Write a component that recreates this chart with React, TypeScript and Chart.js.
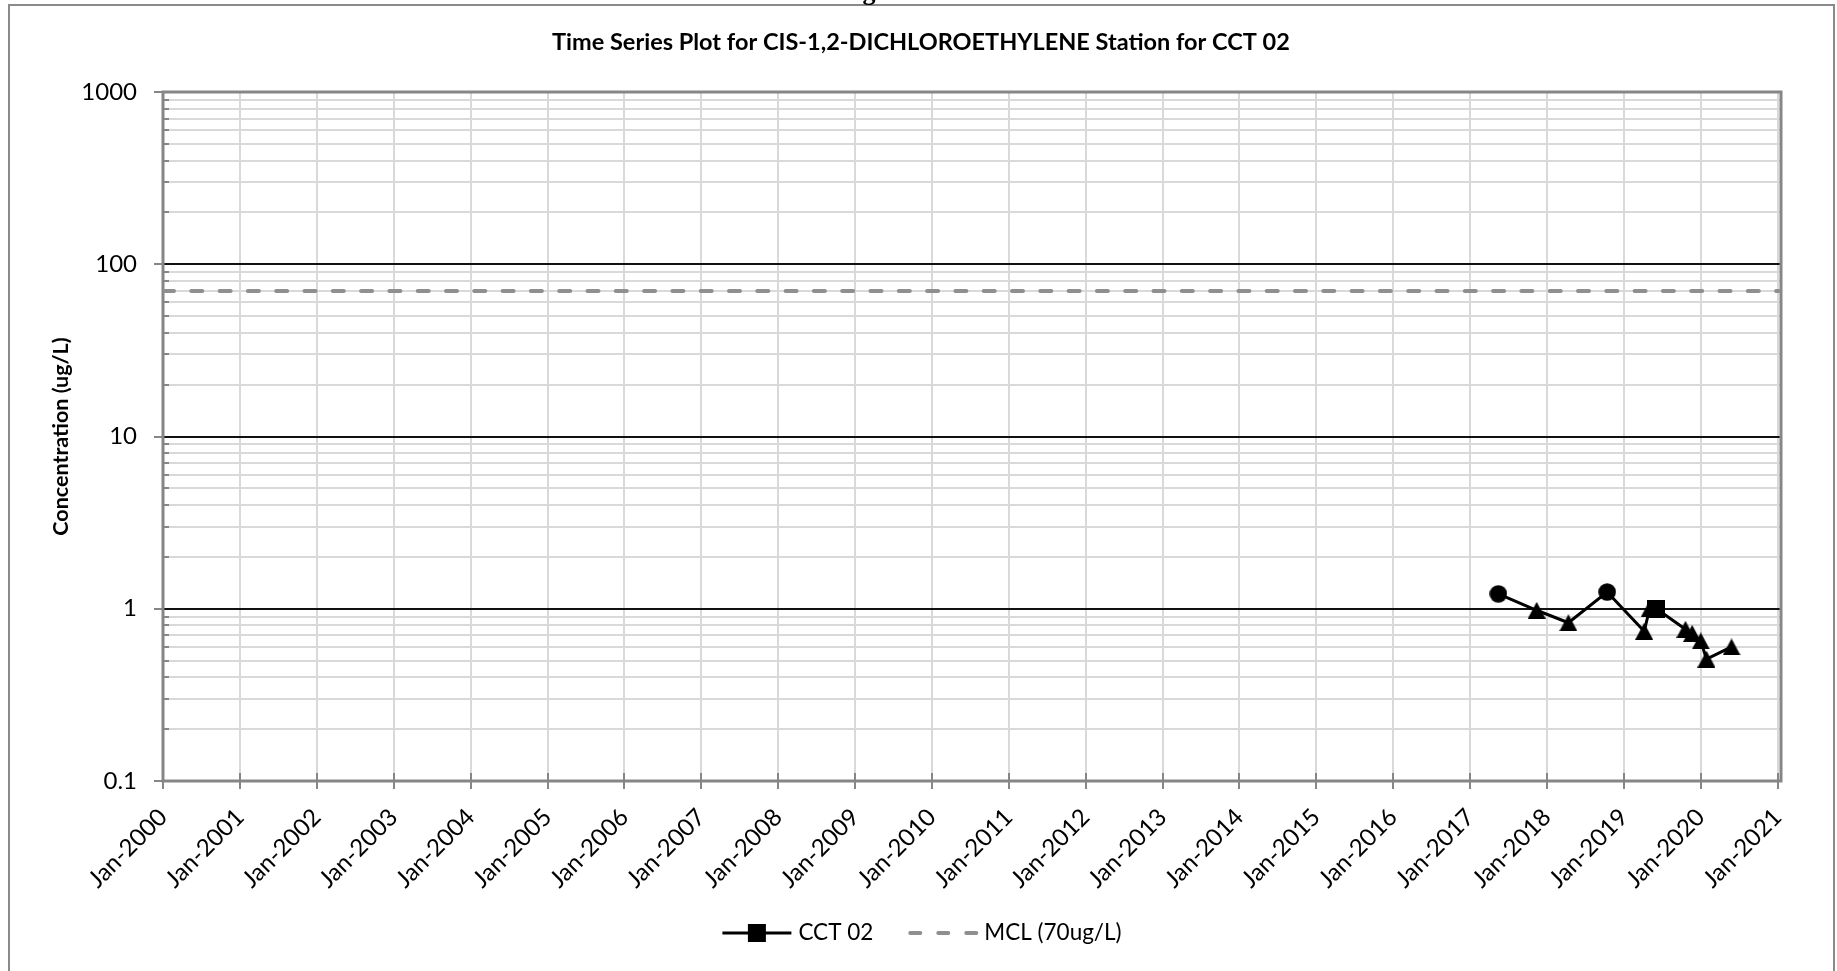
import React, { useEffect, useRef } from "react";
import { Chart, registerables } from "chart.js";

Chart.register(...registerables);

// ---------------- data ----------------
const chartTitle = "Time Series Plot for CIS-1,2-DICHLOROETHYLENE Station for CCT 02";
const yAxisTitle = "Concentration (ug/L)";
const seriesName = "CCT 02";
const mclName = "MCL (70ug/L)";

const sampleDates = [
  "2017-05-15", "2017-11-13", "2018-04-13", "2018-10-14", "2019-04-08", "2019-05-04",
  "2019-06-05", "2019-10-21", "2019-11-22", "2020-01-02", "2020-01-29", "2020-05-27",
];
const concentrations = [1.22, 0.98, 0.83, 1.25, 0.74, 1.0, 1.0, 0.76, 0.72, 0.65, 0.51, 0.6];
const markerShapes = [
  "circle", "triangle", "triangle", "circle", "triangle", "triangle",
  "square", "triangle", "triangle", "triangle", "triangle", "triangle",
];

const mclValue = 70;
const xAxisStart = "2000-01-01";
const xAxisEnd = "2021-01-17";

const xTickDates = [
  "2000-01-01", "2001-01-01", "2002-01-01", "2003-01-01", "2004-01-01", "2005-01-01",
  "2006-01-01", "2007-01-01", "2008-01-01", "2009-01-01", "2010-01-01", "2011-01-01",
  "2012-01-01", "2013-01-01", "2014-01-01", "2015-01-01", "2016-01-01", "2017-01-01",
  "2018-01-01", "2019-01-01", "2020-01-01", "2021-01-01",
];
const xTickLabels = [
  "Jan-2000", "Jan-2001", "Jan-2002", "Jan-2003", "Jan-2004", "Jan-2005",
  "Jan-2006", "Jan-2007", "Jan-2008", "Jan-2009", "Jan-2010", "Jan-2011",
  "Jan-2012", "Jan-2013", "Jan-2014", "Jan-2015", "Jan-2016", "Jan-2017",
  "Jan-2018", "Jan-2019", "Jan-2020", "Jan-2021",
];

const yTickValues = [
  0.1, 0.2, 0.3, 0.4, 0.5, 0.6, 0.7, 0.8, 0.9,
  1, 2, 3, 4, 5, 6, 7, 8, 9,
  10, 20, 30, 40, 50, 60, 70, 80, 90,
  100, 200, 300, 400, 500, 600, 700, 800, 900,
  1000,
];
const yMajorValues = [0.1, 1, 10, 100, 1000];
const yMajorLabels = ["0.1", "1", "10", "100", "1000"];
const yDarkGridValues = [1, 10, 100];

// ---------------- styles ----------------
const FONT = "Lato";
const FRAME = "#868686";
const GRID = "#d9d9d9";

function makeMarker(shape: string): HTMLCanvasElement {
  const c = document.createElement("canvas");
  if (shape === "triangle") {
    c.width = 18;
    c.height = 17;
  } else {
    c.width = 18;
    c.height = 18;
  }
  const g = c.getContext("2d")!;
  g.fillStyle = "#000";
  g.beginPath();
  if (shape === "triangle") {
    g.moveTo(9, 0);
    g.lineTo(18, 17);
    g.lineTo(0, 17);
    g.closePath();
  } else if (shape === "circle") {
    g.arc(9, 9, 8.8, 0, Math.PI * 2);
  } else {
    g.rect(0, 0, 18, 18);
  }
  g.fill();
  return c;
}

export default function App() {
  const canvasRef = useRef<HTMLCanvasElement | null>(null);

  useEffect(() => {
    const canvas = canvasRef.current;
    if (!canvas) return;

    const markers: Record<string, HTMLCanvasElement> = {
      circle: makeMarker("circle"),
      triangle: makeMarker("triangle"),
      square: makeMarker("square"),
    };

    const xMin = Date.parse(xAxisStart);
    const xMax = Date.parse(xAxisEnd);

    const decorPlugin = {
      id: "decor",
      beforeDatasetsDraw(chart: any) {
        const { ctx, chartArea: a } = chart;
        const xs = chart.scales.x;
        const ys = chart.scales.y;
        ctx.save();
        ctx.strokeStyle = FRAME;
        ctx.lineWidth = 2;
        ctx.beginPath();
        yTickValues.forEach((v) => {
          if (yMajorValues.includes(v)) return;
          const y = Math.round(ys.getPixelForValue(v));
          ctx.moveTo(a.left, y);
          ctx.lineTo(a.left + 6, y);
        });
        xTickDates.forEach((d) => {
          const x = Math.round(xs.getPixelForValue(Date.parse(d)));
          ctx.moveTo(x, a.bottom);
          ctx.lineTo(x, a.bottom - 8);
        });
        ctx.stroke();
        ctx.lineWidth = 3;
        ctx.strokeRect(a.left, a.top, a.right - a.left, a.bottom - a.top);
        ctx.restore();
      },
      afterDraw(chart: any) {
        const { ctx } = chart;
        ctx.save();
        // outer border
        ctx.strokeStyle = "#8a8a8a";
        ctx.lineWidth = 2;
        ctx.beginPath();
        ctx.moveTo(9, 980);
        ctx.lineTo(9, 5);
        ctx.lineTo(1834, 5);
        ctx.lineTo(1834, 980);
        ctx.stroke();

        // clipped page text above the chart
        ctx.fillStyle = "#000";
        ctx.font = 'bold 26px "Liberation Serif"';
        ctx.textAlign = "center";
        ctx.textBaseline = "alphabetic";
        ctx.fillText("g", 869, 0);

        // title
        ctx.font = `bold 23.5px ${FONT}`;
        ctx.textBaseline = "middle";
        ctx.fillText(chartTitle, 921, 42);

        // legend
        ctx.font = `22.5px ${FONT}`;
        ctx.textAlign = "left";
        const ly = 933;
        const lineLen = 69;
        const gapText = 7;
        const itemGap = 35;
        const w1 = ctx.measureText(seriesName).width;
        const w2 = ctx.measureText(mclName).width;
        const total = lineLen + gapText + w1 + itemGap + lineLen + gapText + w2;
        let x = 922 - total / 2;
        ctx.strokeStyle = "#000";
        ctx.lineWidth = 3;
        ctx.beginPath();
        ctx.moveTo(x, ly);
        ctx.lineTo(x + lineLen, ly);
        ctx.stroke();
        ctx.fillRect(x + lineLen / 2 - 9, ly - 9, 18, 18);
        x += lineLen + gapText;
        ctx.fillText(seriesName, x, ly);
        x += w1 + itemGap;
        ctx.strokeStyle = "#8f8f8f";
        ctx.lineWidth = 4;
        ctx.lineCap = "round";
        ctx.setLineDash([10, 18]);
        ctx.beginPath();
        ctx.moveTo(x + 2, ly);
        ctx.lineTo(x + lineLen, ly);
        ctx.stroke();
        ctx.setLineDash([]);
        x += lineLen + gapText;
        ctx.fillText(mclName, x, ly);
        ctx.restore();
      },
    };

    const chart = new Chart(canvas, {
      type: "line",
      data: {
        datasets: [
          {
            label: seriesName,
            data: sampleDates.map((d, i) => ({ x: Date.parse(d), y: concentrations[i] })),
            borderColor: "#000",
            backgroundColor: "#000",
            borderWidth: 3,
            pointStyle: markerShapes.map((s) => markers[s]) as any,
            pointRadius: 8,
            tension: 0,
          },
          {
            label: mclName,
            data: [
              { x: xMin, y: mclValue },
              { x: xMax, y: mclValue },
            ],
            borderColor: "#8f8f8f",
            borderWidth: 4,
            borderDash: [11, 17.3],
            borderCapStyle: "round",
            pointRadius: 0,
            tension: 0,
          },
        ],
      },
      options: {
        animation: false,
        responsive: false,
        maintainAspectRatio: false,
        layout: { padding: { top: 92, right: 56, bottom: 0, left: 0 } },
        plugins: {
          legend: { display: false },
          title: { display: false },
          tooltip: { enabled: false },
        },
        scales: {
          x: {
            type: "linear",
            min: xMin,
            max: xMax,
            afterBuildTicks: (scale: any) => {
              scale.ticks = xTickDates.map((d) => ({ value: Date.parse(d) }));
            },
            afterFit: (scale: any) => {
              scale.height = 190;
            },
            grid: {
              color: GRID,
              lineWidth: 2,
              drawTicks: true,
              tickLength: 8,
              tickColor: FRAME,
              tickWidth: 2,
            },
            border: { display: false },
            ticks: {
              autoSkip: false,
              maxRotation: 45,
              minRotation: 45,
              padding: 14,
              color: "#000",
              font: { family: FONT, size: 24 },
              callback: (_v: any, i: number) => xTickLabels[i],
            },
          },
          y: {
            type: "logarithmic",
            min: 0.1,
            max: 1000,
            afterBuildTicks: (scale: any) => {
              scale.ticks = yTickValues.map((v) => ({ value: v }));
            },
            afterFit: (scale: any) => {
              scale.width = 163;
            },
            grid: {
              color: (c: any) => (yDarkGridValues.includes(c.tick?.value) ? "#111" : GRID),
              lineWidth: 2,
              drawTicks: true,
              tickLength: 9,
              tickWidth: 2,
              tickColor: (c: any) =>
                yMajorValues.includes(c.tick?.value) ? FRAME : "rgba(0,0,0,0)",
            },
            border: { display: false },
            ticks: {
              autoSkip: false,
              padding: 17,
              color: "#000",
              font: { family: FONT, size: 24 },
              callback: (v: any) => {
                const idx = yMajorValues.indexOf(Number(v));
                return idx >= 0 ? yMajorLabels[idx] : "";
              },
            },
            title: {
              display: true,
              text: yAxisTitle,
              color: "#000",
              font: { family: FONT, size: 21.5, weight: "bold" },
              padding: { top: 48, bottom: 0 },
            },
          },
        },
      },
      plugins: [decorPlugin],
    } as any);

    let alive = true;
    if ((document as any).fonts && (document as any).fonts.load) {
      Promise.all([
        (document as any).fonts.load(`22px ${FONT}`),
        (document as any).fonts.load(`bold 22px ${FONT}`),
      ]).then(() => {
        if (alive) chart.update();
      });
    }

    return () => {
      alive = false;
      chart.destroy();
    };
  }, []);

  return (
    <div style={{ position: "fixed", left: 0, top: 0, width: 1837, height: 971, background: "#fff" }}>
      <canvas ref={canvasRef} width={1837} height={971} style={{ display: "block" }} />
    </div>
  );
}
